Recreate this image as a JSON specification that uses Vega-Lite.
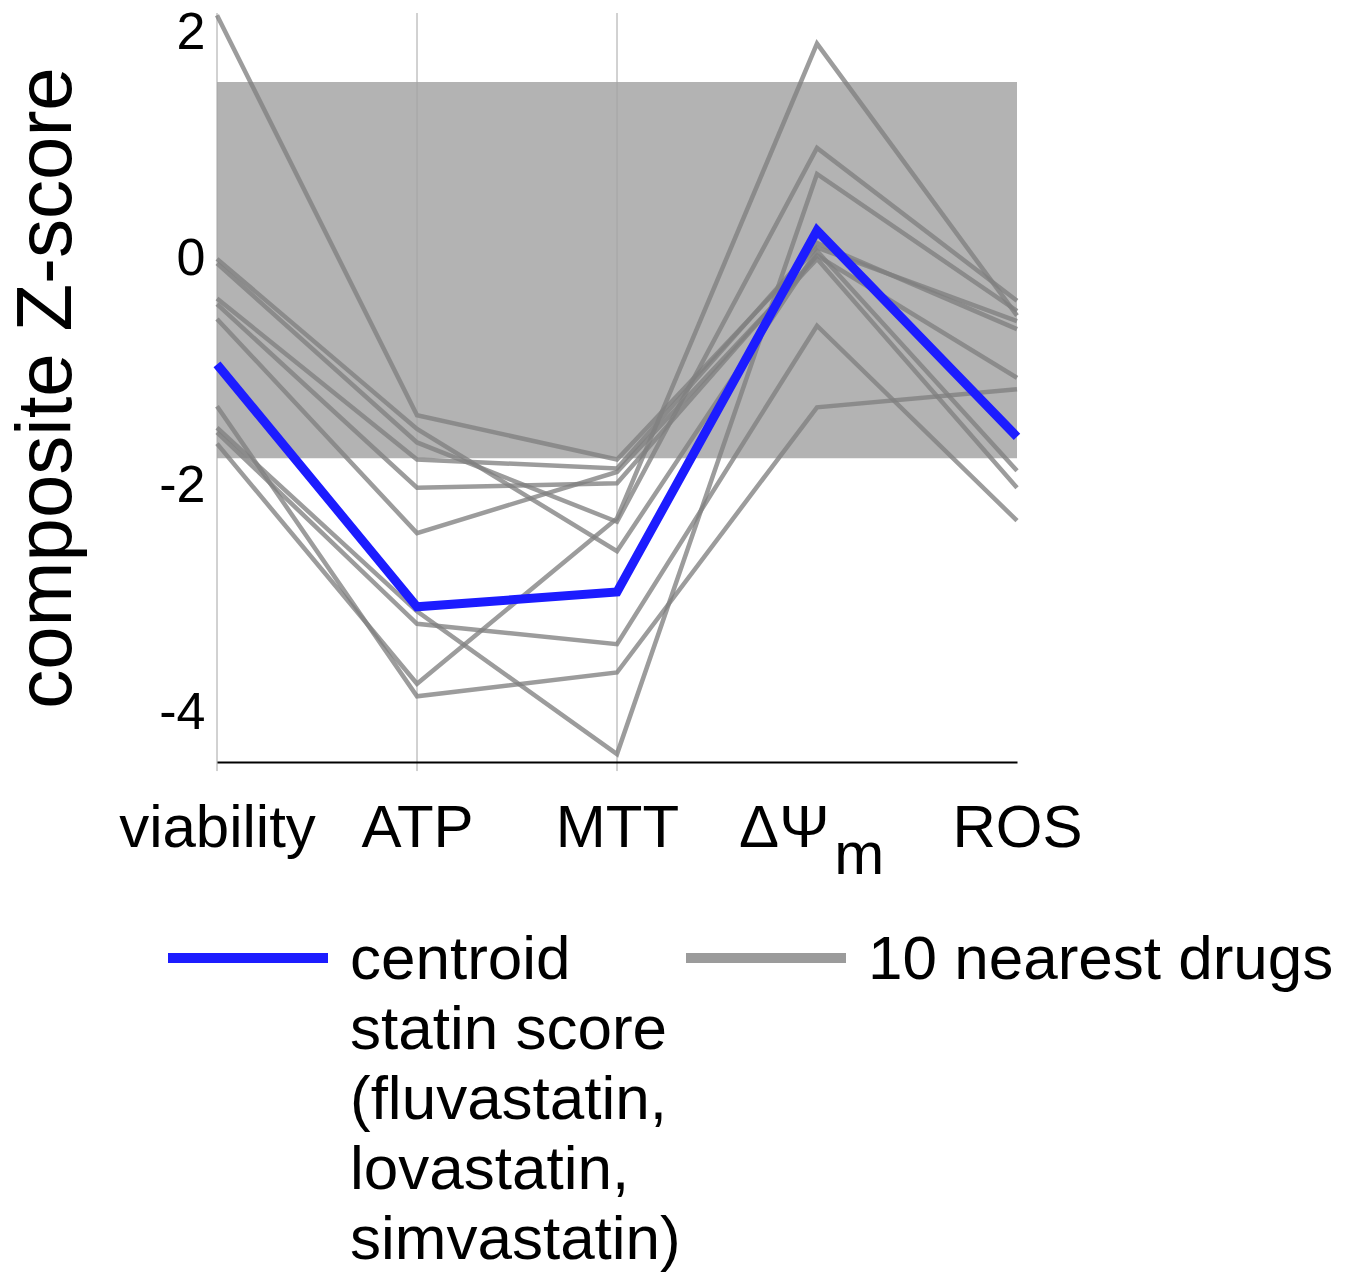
{
  "$schema": "https://vega.github.io/schema/vega-lite/v6.json",
  "autosize": "none",
  "padding": {"left": 217, "top": 13, "right": 330, "bottom": 514},
  "width": 800,
  "height": 749,
  "background": "white",
  "config": {
    "view": {"stroke": null},
    "font": "Liberation Sans",
    "style": {"guide-label": {"lineHeight": 70, "dy": 21}}
  },
  "datasets": {
    "band": [{"metric": "viability", "metric_end": "ROS", "z": 1.56, "z_end": -1.76}],
    "grid": [{"metric": "viability"}, {"metric": "ATP"}, {"metric": "MTT"}],
    "lines": [
      {"drug": "d1", "series": "nearest", "metric": "viability", "z": 2.15},
      {"drug": "d1", "series": "nearest", "metric": "ATP", "z": -1.38},
      {"drug": "d1", "series": "nearest", "metric": "MTT", "z": -1.77},
      {"drug": "d1", "series": "nearest", "metric": "ΔΨm", "z": 0.10},
      {"drug": "d1", "series": "nearest", "metric": "ROS", "z": -0.55},
      {"drug": "d2", "series": "nearest", "metric": "viability", "z": 0.0},
      {"drug": "d2", "series": "nearest", "metric": "ATP", "z": -1.50},
      {"drug": "d2", "series": "nearest", "metric": "MTT", "z": -2.58},
      {"drug": "d2", "series": "nearest", "metric": "ΔΨm", "z": 0.07},
      {"drug": "d2", "series": "nearest", "metric": "ROS", "z": -1.87},
      {"drug": "d3", "series": "nearest", "metric": "viability", "z": -0.04},
      {"drug": "d3", "series": "nearest", "metric": "ATP", "z": -1.62},
      {"drug": "d3", "series": "nearest", "metric": "MTT", "z": -2.32},
      {"drug": "d3", "series": "nearest", "metric": "ΔΨm", "z": 0.98},
      {"drug": "d3", "series": "nearest", "metric": "ROS", "z": -0.37},
      {"drug": "d4", "series": "nearest", "metric": "viability", "z": -0.35},
      {"drug": "d4", "series": "nearest", "metric": "ATP", "z": -1.77},
      {"drug": "d4", "series": "nearest", "metric": "MTT", "z": -1.85},
      {"drug": "d4", "series": "nearest", "metric": "ΔΨm", "z": 0.14},
      {"drug": "d4", "series": "nearest", "metric": "ROS", "z": -0.62},
      {"drug": "d5", "series": "nearest", "metric": "viability", "z": -0.40},
      {"drug": "d5", "series": "nearest", "metric": "ATP", "z": -2.02},
      {"drug": "d5", "series": "nearest", "metric": "MTT", "z": -1.98},
      {"drug": "d5", "series": "nearest", "metric": "ΔΨm", "z": 0.03},
      {"drug": "d5", "series": "nearest", "metric": "ROS", "z": -1.05},
      {"drug": "d6", "series": "nearest", "metric": "viability", "z": -0.53},
      {"drug": "d6", "series": "nearest", "metric": "ATP", "z": -2.42},
      {"drug": "d6", "series": "nearest", "metric": "MTT", "z": -1.88},
      {"drug": "d6", "series": "nearest", "metric": "ΔΨm", "z": 0.0},
      {"drug": "d6", "series": "nearest", "metric": "ROS", "z": -2.02},
      {"drug": "d7", "series": "nearest", "metric": "viability", "z": -1.30},
      {"drug": "d7", "series": "nearest", "metric": "ATP", "z": -3.86},
      {"drug": "d7", "series": "nearest", "metric": "MTT", "z": -3.65},
      {"drug": "d7", "series": "nearest", "metric": "ΔΨm", "z": -1.31},
      {"drug": "d7", "series": "nearest", "metric": "ROS", "z": -1.15},
      {"drug": "d8", "series": "nearest", "metric": "viability", "z": -1.49},
      {"drug": "d8", "series": "nearest", "metric": "ATP", "z": -3.11},
      {"drug": "d8", "series": "nearest", "metric": "MTT", "z": -4.37},
      {"drug": "d8", "series": "nearest", "metric": "ΔΨm", "z": 0.75},
      {"drug": "d8", "series": "nearest", "metric": "ROS", "z": -0.46},
      {"drug": "d9", "series": "nearest", "metric": "viability", "z": -1.53},
      {"drug": "d9", "series": "nearest", "metric": "ATP", "z": -3.22},
      {"drug": "d9", "series": "nearest", "metric": "MTT", "z": -3.40},
      {"drug": "d9", "series": "nearest", "metric": "ΔΨm", "z": -0.59},
      {"drug": "d9", "series": "nearest", "metric": "ROS", "z": -2.31},
      {"drug": "d10", "series": "nearest", "metric": "viability", "z": -1.63},
      {"drug": "d10", "series": "nearest", "metric": "ATP", "z": -3.75},
      {"drug": "d10", "series": "nearest", "metric": "MTT", "z": -2.29},
      {"drug": "d10", "series": "nearest", "metric": "ΔΨm", "z": 1.90},
      {"drug": "d10", "series": "nearest", "metric": "ROS", "z": -0.50},
      {"drug": "c", "series": "centroid", "metric": "viability", "z": -0.93},
      {"drug": "c", "series": "centroid", "metric": "ATP", "z": -3.07},
      {"drug": "c", "series": "centroid", "metric": "MTT", "z": -2.94},
      {"drug": "c", "series": "centroid", "metric": "ΔΨm", "z": 0.25},
      {"drug": "c", "series": "centroid", "metric": "ROS", "z": -1.57}
    ]
  },
  "layer": [
    {
      "data": {"name": "band"},
      "mark": {"type": "rect", "color": "#b3b3b3", "opacity": 1},
      "encoding": {
        "x": {"field": "metric", "type": "nominal", "scale": {"type": "point", "domain": ["viability", "ATP", "MTT", "ΔΨm", "ROS"], "padding": 0}},
        "x2": {"field": "metric_end"},
        "y": {"field": "z", "type": "quantitative", "scale": {"domain": [-4.44, 2.17], "nice": false, "zero": false}},
        "y2": {"field": "z_end"}
      }
    },
    {
      "data": {"name": "grid"},
      "mark": {"type": "rule", "color": "#a4a4a4", "strokeWidth": 1},
      "encoding": {
        "x": {"field": "metric", "type": "nominal"},
        "y": {"datum": 2.17},
        "y2": {"datum": -4.52}
      }
    },
    {
      "data": {"name": "lines"},
      "transform": [{"filter": "datum.series == 'nearest'"}],
      "mark": {"type": "line", "strokeWidth": 4.5},
      "encoding": {
        "x": {
          "field": "metric", "type": "nominal",
          "axis": {
            "title": null, "ticks": false, "grid": false,
            "domainColor": "black", "domainWidth": 2,
            "labelFontSize": 60, "labelColor": "black", "labelAngle": 0, "labelAlign": "center",
            "labelPadding": 16, "labelLineHeight": 27, "labelBaseline": "top",
            "labelFlush": false, "labelOverlap": false, "labelLimit": 400,
            "labelExpr": "datum.value == 'ΔΨm' ? ['ΔΨ\u00a0\u00a0\u00a0\u00a0\u200b', '\u200b\u00a0\u00a0\u00a0\u00a0\u00a0m'] : datum.label"
          }
        },
        "y": {
          "field": "z", "type": "quantitative",
          "axis": {
            "title": "composite Z-score", "titleFontSize": 78, "titleFontWeight": "normal", "titleColor": "black",
            "titlePadding": 72, "values": [-4, -2, 0, 2], "ticks": false, "domain": false, "grid": false,
            "labelFontSize": 52, "labelColor": "black", "labelPadding": 12, "labelOffset": -21,
            "labelExpr": "'' + datum.value"
          }
        },
        "detail": {"field": "drug"},
        "color": {
          "field": "series", "type": "nominal",
          "scale": {"domain": ["centroid", "nearest"], "range": ["#1c1cff", "#808080"]},
          "legend": {
            "title": null, "orient": "none", "legendX": -54, "legendY": 860,
            "direction": "horizontal", "columns": 2, "columnPadding": -35,
            "symbolType": "stroke", "symbolSize": 25600, "symbolStrokeWidth": 10,
            "labelFontSize": 62, "labelColor": "black", "labelLimit": 700, "labelOffset": 17,
            "labelBaseline": "alphabetic",
            "labelExpr": "datum.value == 'centroid' ? ['centroid', 'statin score', '(fluvastatin,', 'lovastatin,', 'simvastatin)'] : ['10 nearest drugs', '', '', '', '']"
          }
        },
        "opacity": {
          "field": "series", "type": "nominal",
          "scale": {"domain": ["centroid", "nearest"], "range": [1, 0.78]}
        }
      }
    },
    {
      "data": {"name": "lines"},
      "transform": [{"filter": "datum.series == 'centroid'"}],
      "mark": {"type": "line", "strokeWidth": 9},
      "encoding": {
        "x": {"field": "metric", "type": "nominal"},
        "y": {"field": "z", "type": "quantitative"},
        "detail": {"field": "drug"},
        "color": {"field": "series", "type": "nominal"},
        "opacity": {"field": "series", "type": "nominal"}
      }
    }
  ]
}
